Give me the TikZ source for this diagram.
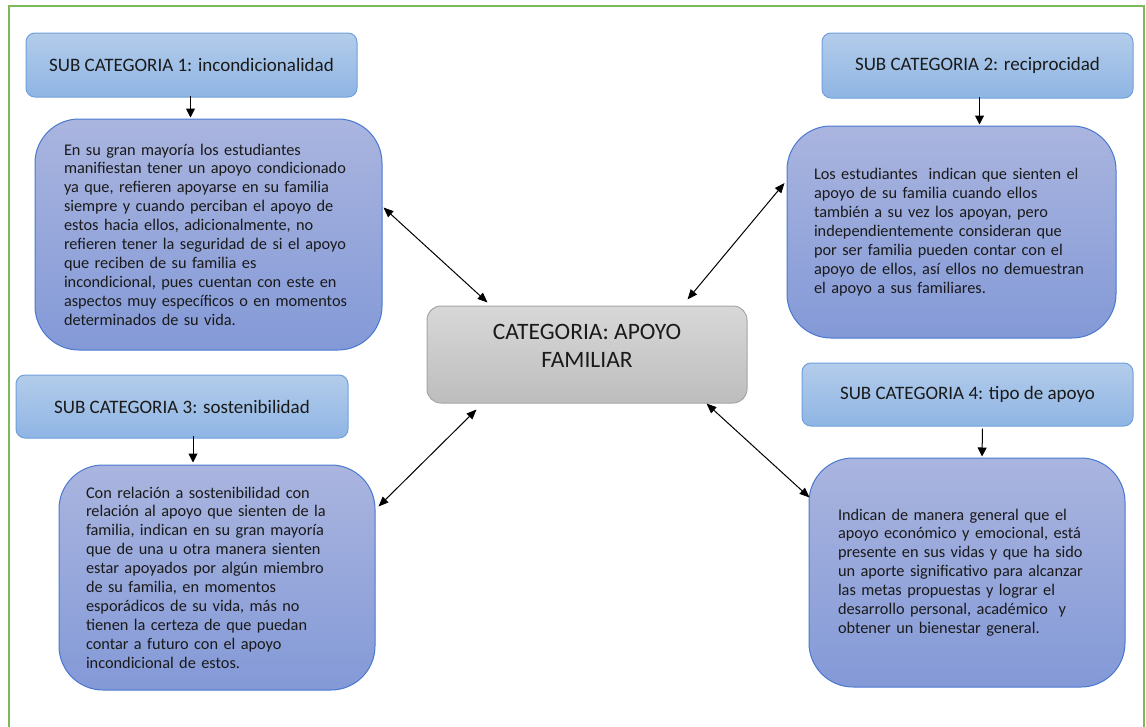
\documentclass[tikz,border=0pt]{standalone}
\usepackage{fontspec}
\setmainfont{Carlito}
\usetikzlibrary{arrows.meta,calc}
\definecolor{frameg}{HTML}{7DB95A}
\definecolor{subtop}{HTML}{B3CCEA}
\definecolor{subbot}{HTML}{8FB5E4}
\definecolor{subdraw}{HTML}{6FA0DC}
\definecolor{bodytop}{HTML}{AAB5DF}
\definecolor{bodybot}{HTML}{8399D7}
\definecolor{bodydraw}{HTML}{4A78D0}
\definecolor{cattop}{HTML}{D8D8D8}
\definecolor{catbot}{HTML}{BDBDBD}
\definecolor{catdraw}{HTML}{A5A5A5}
\definecolor{txt}{HTML}{1A1A1A}
\tikzset{
  subbox/.style={draw=subdraw, line width=1pt, rounded corners=9pt, top color=subtop, bottom color=subbot,
    inner sep=0pt, text=txt, font=\fontsize{19}{22}\selectfont},
  bodybox/.style={draw=bodydraw, line width=1pt, rounded corners=44pt, top color=bodytop, bottom color=bodybot,
    inner sep=0pt, align=left, text=txt, font=\fontsize{16.3}{18.9}\selectfont},
  catbox/.style={draw=catdraw, line width=1pt, rounded corners=14pt, top color=cattop, bottom color=catbot,
    inner sep=0pt, align=center, text=txt, font=\fontsize{23.5}{28}\selectfont},
  downarrow/.style={draw=black, line width=1pt, -{Triangle[length=9pt,width=9pt]}},
  bothway/.style={draw=black, line width=1pt, {Triangle[length=10pt,width=8pt]}-{Triangle[length=10pt,width=8pt]}},
}
\begin{document}
\begin{tikzpicture}[x=1pt,y=-1pt]
\useasboundingbox (0,0) rectangle (1146,726);
\draw[frameg, line width=2pt] (9,730) -- (9,6) -- (1144,6) -- (1144,730);

% sub category boxes
\node[subbox, minimum width=331pt, minimum height=64pt] (s1) at (191.5,65) {SUB CATEGORIA 1: incondicionalidad};
\node[subbox, minimum width=311pt, minimum height=65pt] (s2) at (977.5,65.5) {SUB CATEGORIA 2: reciprocidad};
\node[subbox, minimum width=332pt, minimum height=63pt] (s3) at (182,406.5) {SUB CATEGORIA 3: sostenibilidad};
\node[subbox, minimum width=331pt, minimum height=63pt] (s4) at (967.5,394.5) {SUB CATEGORIA 4: tipo de apoyo};

% body boxes
\node[bodybox, minimum width=347pt, minimum height=231pt, text width=289pt] (b1) at (208.5,234.5) {En su gran mayoría los estudiantes\\
manifiestan tener un apoyo condicionado\\
ya que, refieren apoyarse en su familia\\
siempre y cuando perciban el apoyo de\\
estos hacia ellos, adicionalmente, no\\
refieren tener la seguridad de si el apoyo\\
que reciben de su familia es\\
incondicional, pues cuentan con este en\\
aspectos muy específicos o en momentos\\
determinados de su vida.};

\node[bodybox, minimum width=329pt, minimum height=212pt, text width=275pt] (b2) at (951.5,232) {Los estudiantes~ indican que sienten el\\
apoyo de su familia cuando ellos\\
también a su vez los apoyan, pero\\
independientemente consideran que\\
por ser familia pueden contar con el\\
apoyo de ellos, así ellos no demuestran\\
el apoyo a sus familiares.};

\node[bodybox, minimum width=316pt, minimum height=225pt, text width=262pt] (b3) at (217,577.5) {Con relación a sostenibilidad con\\
relación al apoyo que sienten de la\\
familia, indican en su gran mayoría\\
que de una u otra manera sienten\\
estar apoyados por algún miembro\\
de su familia, en momentos\\
esporádicos de su vida, más no\\
tienen la certeza de que puedan\\
contar a futuro con el apoyo\\
incondicional de estos.};

\node[bodybox, minimum width=316pt, minimum height=229pt, text width=258pt] (b4) at (967,572.5) {Indican de manera general que el\\
apoyo económico y emocional, está\\
presente en sus vidas y que ha sido\\
un aporte significativo para alcanzar\\
las metas propuestas y lograr el\\
desarrollo personal, académico~ y\\
obtener un bienestar general.};

% central category
\node[catbox, minimum width=320pt, minimum height=97pt] (c) at (587,354.5) {CATEGORIA: APOYO\\FAMILIAR\\[-11pt]\mbox{}};

% vertical arrows
\draw[downarrow] ($(s1.south)+(-1,-2)$) -- ($(b1.north)+(-18,-1)$);
\draw[downarrow] ($(s2.south)+(2,-2)$) -- ($(b2.north)+(28,-1)$);
\draw[downarrow] ($(s3.south)+(11,-3)$) -- ($(b3.north)+(-24,-2)$);
\draw[downarrow] ($(s4.south)+(15,2)$) -- ($(b4.north)+(15,-1)$);

% double arrows
\draw[bothway] ($(b1.east)+(1,-27)$) -- ($(c.north west)+(61,-3)$);
\draw[bothway] ($(b2.west)+(-2,-49)$) -- ($(c.north west)+(261,-6)$);
\draw[bothway] ($(c.south west)+(50,6)$) -- ($(b3.east)+(3,-71)$);
\draw[bothway] ($(c.south west)+(280,0)$) -- ($(b4.west)+(1,-75)$);
\end{tikzpicture}
\end{document}
